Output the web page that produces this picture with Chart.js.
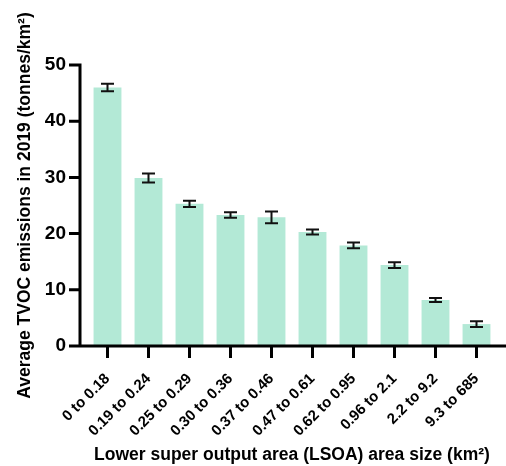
<!DOCTYPE html>
<html>
<head>
<meta charset="utf-8">
<script src="https://cdn.jsdelivr.net/npm/chart.js@4"></script>
<style>
body { margin: 0; background: #fff; }
</style>
</head>
<body>
<canvas id="tvoc" width="506" height="466"></canvas>
<script>
// LSOA area size bands (km2)
var areaBands = ['0 to 0.18','0.19 to 0.24','0.25 to 0.29','0.30 to 0.36','0.37 to 0.46',
	'0.47 to 0.61','0.62 to 0.95','0.96 to 2.1','2.2 to 9.2','9.3 to 685'];
var meanTvoc = [46.0, 29.9, 25.3, 23.3, 22.9, 20.3, 17.9, 14.4, 8.2, 3.9];
var errTvoc = [0.65, 0.8, 0.55, 0.5, 1.05, 0.45, 0.5, 0.5, 0.35, 0.5];
var yTicks = [0, 10, 20, 30, 40, 50];

var fontFam = 'Arial, "Liberation Sans", sans-serif';

// error bars from the errTvoc array
var errorBars = {
	id: 'errorBars',
	afterDatasetsDraw: function(chart) {
		var ctx = chart.ctx;
		var y = chart.scales.y;
		var meta = chart.getDatasetMeta(0);
		ctx.save();
		ctx.strokeStyle = '#111';
		ctx.lineWidth = 2;
		meta.data.forEach(function(bar, i) {
			var hi = y.getPixelForValue(meanTvoc[i] + errTvoc[i]);
			var lo = y.getPixelForValue(meanTvoc[i] - errTvoc[i]);
			ctx.beginPath();
			ctx.moveTo(bar.x, hi); ctx.lineTo(bar.x, lo);
			ctx.moveTo(bar.x - 6.5, hi); ctx.lineTo(bar.x + 6.5, hi);
			ctx.moveTo(bar.x - 6.5, lo); ctx.lineTo(bar.x + 6.5, lo);
			ctx.stroke();
		});
		ctx.restore();
	}
};

// axis lines and tick marks, set a little outside the plot area
var axes = {
	id: 'axes',
	afterDraw: function(chart) {
		var ctx = chart.ctx;
		var a = chart.chartArea;
		var y = chart.scales.y;
		var meta = chart.getDatasetMeta(0);
		var ax = a.left - 7;
		ctx.save();
		ctx.strokeStyle = '#000';
		ctx.lineWidth = 3;
		ctx.lineCap = 'butt';
		ctx.beginPath();
		ctx.moveTo(ax, y.getPixelForValue(yTicks[yTicks.length - 1]) - 1.5);
		ctx.lineTo(ax, a.bottom);
		ctx.moveTo(ax - 1.5, a.bottom);
		ctx.lineTo(chart.width, a.bottom);
		yTicks.forEach(function(v) {
			var py = y.getPixelForValue(v);
			ctx.moveTo(ax - 11, py); ctx.lineTo(ax, py);
		});
		meta.data.forEach(function(bar) {
			ctx.moveTo(bar.x, a.bottom); ctx.lineTo(bar.x, a.bottom + 12);
		});
		ctx.stroke();
		ctx.restore();
	}
};

var chart = new Chart(document.getElementById('tvoc'), {
	type: 'bar',
	data: {
		labels: areaBands,
		datasets: [{
			data: meanTvoc,
			backgroundColor: '#b3e9d6',
			borderWidth: 0,
			barPercentage: 0.68,
			categoryPercentage: 1.0
		}]
	},
	options: {
		responsive: false,
		animation: false,
		layout: { padding: { left: 8, right: 9, top: 65, bottom: 0 } },
		plugins: {
			legend: { display: false },
			tooltip: { enabled: false }
		},
		scales: {
			x: {
				offset: true,
				grid: { display: false, drawTicks: true, tickLength: 22 },
				border: { display: false },
				afterFit: function(s) { s.height = 120; },
				ticks: {
					color: '#000',
					padding: 2,
					minRotation: 45,
					maxRotation: 45,
					autoSkip: false,
					font: { family: fontFam, size: 15, weight: 'bold' }
				},
				title: {
					display: true,
					text: 'Lower super output area (LSOA) area size (km²)',
					color: '#000',
					padding: 0,
					font: { family: fontFam, size: 17.5, weight: 'bold' }
				}
			},
			y: {
				min: 0,
				max: 50,
				grid: { display: false, drawTicks: false },
				border: { display: false },
				afterFit: function(s) { s.width = 79; },
				afterBuildTicks: function(s) {
					s.ticks = yTicks.map(function(v) { return { value: v }; });
				},
				ticks: {
					color: '#000',
					padding: 21,
					font: { family: fontFam, size: 19, weight: 'bold' }
				},
				title: {
					display: true,
					text: 'Average TVOC emissions in 2019 (tonnes/km²)',
					color: '#000',
					padding: { top: 7, bottom: 0 },
					font: { family: fontFam, size: 17.5, weight: 'bold' }
				}
			}
		}
	},
	plugins: [errorBars, axes]
});
</script>
</body>
</html>
